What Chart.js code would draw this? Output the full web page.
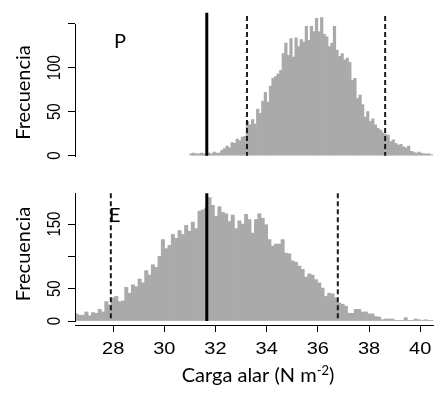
<!DOCTYPE html>
<html><head><meta charset="utf-8">
<script src="https://cdn.jsdelivr.net/npm/chart.js@4.4.1/dist/chart.umd.min.js"></script>
<style>
html,body{margin:0;padding:0;background:#fff;}
#wrap{position:relative;width:438px;height:394px;background:#fff;}
canvas{position:absolute;left:0;}
#c1{top:0;} #c2{top:175px;}
</style></head><body>
<div id="wrap"><canvas id="c1" width="438" height="175"></canvas><canvas id="c2" width="438" height="219"></canvas></div>
<script>
// ---------- data ----------
const xTicks = [28, 30, 32, 34, 36, 38, 40];
const xRange = [26.51, 40.5];
const yTicks = [0, 50, 100, 150];
const yTickLabelsP = ['0', '50', '100', ''];
const yTickLabelsE = ['0', '50', '', '150'];
const panelLabels = ['P', 'E'];
const yTitle = 'Frecuencia';
const xTitleMain = 'Carga alar (N m';
const xTitleSup = '-2';
const xTitleEnd = ')';

// panel P histogram (bins of 0.1 starting at 31.0)
const binStartP = 31.0, binWidthP = 0.1;
const countsP = [
  2,3,2,2,3,2,2,3,2,4,
  3,3,6,8,11,9,15,14,19,17,
  21,22,39,35,41,36,53,48,62,72,
  61,79,88,90,93,97,116,128,114,133,
  112,134,124,132,129,147,131,147,141,156,
  141,157,138,135,124,128,147,120,113,116,
  109,111,106,86,88,65,69,58,44,50,
  39,42,35,31,29,26,24,23,16,18,
  14,12,13,10,9,11,5,4,3,4,
  3,2,2,2,1
];
// panel E histogram (bins of 0.13 starting at 26.5)
const binStartE = 26.5, binWidthE = 0.13;
const countsE = [
  11,9,9,14,8,13,12,18,14,30,
  25,36,38,30,31,52,43,56,53,65,
  59,78,71,87,83,100,126,112,117,134,
  128,140,134,148,139,153,143,170,172,175,
  191,179,162,177,168,166,154,164,143,155,
  150,165,157,136,157,166,159,149,126,116,
  119,119,126,105,104,93,91,85,80,68,
  73,71,64,59,51,38,43,42,36,28,
  26,23,12,12,18,18,14,14,11,11,
  7,6,2,3,3,3,1,1,1,5,
  1,1,3,2,1,2,1,1
];
// reference lines: solid = mean, dashed = limits ; heights of the drawn segments
const meanP = 31.66, limitsP = [33.23, 38.63], meanTopP = 162.5, limTopP = 158.8;
const meanE = 31.66, limitsE = [27.91, 36.78], meanTopE = 197.7, limTopE = 197.7;

// ---------- drawing ----------
const decor = {
  id: 'decor',
  afterDraw(chart, args, o) {
    const ctx = chart.ctx, ys = chart.scales.y, xs = chart.scales.x, ca = chart.chartArea;
    ctx.save();
    ctx.strokeStyle = '#000'; ctx.lineWidth = 1;
    const ax = Math.round(ca.left) + 0.5;
    const y0 = Math.round(ys.getPixelForValue(0)) + 0.5;
    const y1 = Math.round(ys.getPixelForValue(o.axisTop)) + 0.5;
    ctx.beginPath(); ctx.moveTo(ax, y0 + 0.5); ctx.lineTo(ax, y1 - 0.5); ctx.stroke();
    ctx.fillStyle = '#000';
    ctx.font = '15px "Liberation Sans", Arial, sans-serif';
    ctx.textAlign = 'center'; ctx.textBaseline = 'alphabetic';
    yTicks.forEach((v, i) => {
      const lab = o.yLabels[i]; if (!lab) return;
      const y = ys.getPixelForValue(v);
      ctx.save(); ctx.translate(o.yLabelX, y); ctx.scale(1.25, 1); ctx.rotate(-Math.PI / 2);
      ctx.fillText(lab, 0, 0); ctx.restore();
    });
    ctx.font = o.titleFont;
    ctx.save(); ctx.translate(o.titleX, o.titleY); ctx.rotate(-Math.PI / 2);
    ctx.fillText(yTitle, 0, 0); ctx.restore();
    ctx.textAlign = 'left';
    ctx.fillText(o.label, o.labelX, o.labelY);
    if (o.xAxis) {
      ctx.font = '16px "Liberation Sans", Arial, sans-serif'; ctx.textAlign = 'center';
      xTicks.forEach(v => {
        const x = xs.getPixelForValue(v);
        ctx.save(); ctx.translate(x, o.xLabelY); ctx.scale(1.25, 1);
        ctx.fillText(String(v), 0, 0); ctx.restore();
      });
      ctx.textAlign = 'left';
      ctx.font = o.titleFont; const w1 = ctx.measureText(xTitleMain).width, w3 = ctx.measureText(xTitleEnd).width;
      ctx.font = o.supFont; const w2 = ctx.measureText(xTitleSup).width;
      let x = o.xTitleX - (w1 + w2 + w3) / 2;
      ctx.font = o.titleFont; ctx.fillText(xTitleMain, x, o.xTitleY); x += w1;
      ctx.font = o.supFont; ctx.fillText(xTitleSup, x, o.xTitleY - 7); x += w2;
      ctx.font = o.titleFont; ctx.fillText(xTitleEnd, x, o.xTitleY);
    }
    ctx.restore();
  }
};

function vline(x, top, dashed) {
  return { type: 'line', data: [{ x: x, y: top }, { x: x, y: 0 }],
    borderColor: dashed ? '#1a1a1a' : '#000', borderWidth: dashed ? 2 : 3,
    borderDash: dashed ? [5, 3] : [], borderCapStyle: 'butt',
    pointRadius: 0, fill: false, tension: 0, order: 0 };
}

function makeChart(id, counts, binStart, binWidth, mean, limits, meanTop, limTop, yMin, yMax, pad, showX, deco) {
  const bars = counts.map((c, i) => ({ x: binStart + binWidth * (i + 0.5), y: c }));
  const xScale = { type: 'linear', min: xRange[0], max: xRange[1], offset: false, display: showX,
    afterBuildTicks: s => { s.ticks = xTicks.map(v => ({ value: v })); },
    ticks: { display: false },
    grid: { drawOnChartArea: false, drawTicks: true, tickLength: 7, color: '#000', offset: false },
    border: { display: true, color: '#000', width: 1 } };
  if (showX) xScale.afterFit = s => { s.height = 69; };
  return new Chart(document.getElementById(id), {
    type: 'bar',
    data: { datasets: [
      { data: bars, backgroundColor: '#aaaaaa', borderWidth: 0, barPercentage: 1, categoryPercentage: 1, order: 1 },
      vline(mean, meanTop, false),
      ...limits.map(l => vline(l, limTop, true))
    ] },
    options: {
      responsive: false, animation: false, devicePixelRatio: 1,
      layout: { padding: pad },
      plugins: { legend: { display: false }, tooltip: { enabled: false }, decor: deco },
      scales: {
        x: xScale,
        y: { type: 'linear', min: yMin, max: yMax,
          afterBuildTicks: s => { s.ticks = yTicks.map(v => ({ value: v })); },
          ticks: { display: false },
          grid: { drawOnChartArea: false, drawTicks: true, tickLength: 7, color: '#000' },
          border: { display: false },
          afterFit: s => { s.width = 75; } }
      }
    },
    plugins: [decor]
  });
}

function build() {
  makeChart('c1', countsP, binStartP, binWidthP, meanP, limitsP, meanTopP, limTopP, -6.5, 163.3,
    { left: 0, right: 5, top: 12, bottom: 13.6 }, false,
    { axisTop: 150, yLabels: yTickLabelsP, yLabelX: 60, titleX: 29.5, titleY: 92.5,
      titleFont: '20px Lato, sans-serif', label: panelLabels[0], labelX: 114, labelY: 48 });
  makeChart('c2', countsE, binStartE, binWidthE, meanE, limitsE, meanTopE, limTopE, -6.19, 198.1,
    { left: 0, right: 5, top: 18, bottom: 0 }, true,
    { axisTop: 198.1, yLabels: yTickLabelsE, yLabelX: 60, titleX: 29.5, titleY: 79,
      titleFont: '20px Lato, sans-serif', label: panelLabels[1], labelX: 109, labelY: 47,
      xAxis: true, xLabelY: 179, xTitleX: 258, xTitleY: 206.5, supFont: '13px Lato, sans-serif' });
}
if (document.fonts && document.fonts.load) {
  Promise.all([document.fonts.load('20px Lato'), document.fonts.load('15px "Liberation Sans"')]).then(build, build);
} else build();
</script>
</body></html>
